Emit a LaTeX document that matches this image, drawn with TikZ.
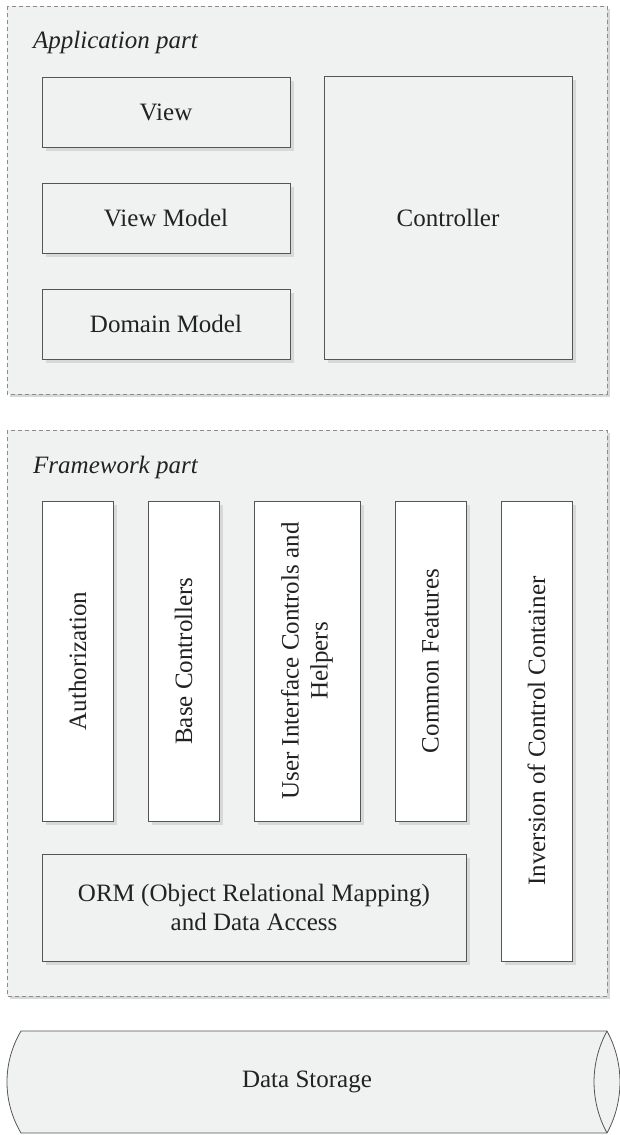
\documentclass[tikz,border=0pt]{standalone}
\usepackage{fontspec}
\setmainfont{Liberation Serif}
\usetikzlibrary{shadows}
\definecolor{bggrey}{HTML}{F0F1F1}
\definecolor{shadowgrey}{HTML}{D7D8D8}
\definecolor{linegrey}{HTML}{555555}
\definecolor{dashgrey}{HTML}{8C8C8C}
\definecolor{textgrey}{HTML}{222222}
\begin{document}
\begin{tikzpicture}[x=1pt,y=-1pt,
  font=\fontsize{25}{29}\selectfont, text=textgrey,
  container/.style={draw=dashgrey, line width=0.8pt, dash pattern=on 4pt off 3pt, fill=bggrey,
    drop shadow={shadow xshift=3pt, shadow yshift=-3pt, fill=shadowgrey, opacity=1}},
  boxbase/.style={draw=linegrey, line width=0.9pt, inner sep=0pt, outer sep=0pt, align=center,
    drop shadow={shadow xshift=3.5pt, shadow yshift=-3.5pt, fill=shadowgrey, opacity=1}},
  appbox/.style={boxbase, fill=bggrey, minimum width=248pt, minimum height=70pt},
  vbox/.style={boxbase, fill=white, minimum width=71pt, minimum height=320pt},
  vtext/.style={rotate=90, align=center, inner sep=0pt},
  parttitle/.style={anchor=base west, font=\fontsize{25}{29}\selectfont\itshape, inner sep=0pt}
]
\useasboundingbox (0,0) rectangle (620,1135);

% containers
\path[container] (7,6) rectangle (607,394);
\path[container] (7,430) rectangle (607,996);

\node[parttitle] (apptitle) at (33,48) {Application part};
\node[parttitle] (fwtitle) at (33,473) {Framework part};

% application part
\node[appbox] (view) at (166,112) {View};
\node[appbox] (viewmodel) at (166,218) {View Model};
\node[appbox] (domain) at (166,324) {Domain Model};
\node[appbox, minimum height=283pt] (controller) at (448,217.5) {Controller};

% framework part
\node[vbox] (auth) at (77.5,661) {};
\node[vtext] at (auth) {Authorization};
\node[vbox] (basec) at (183.5,661) {};
\node[vtext] at (basec) {Base Controllers};
\node[vbox, minimum width=106pt] (uic) at (307,661) {};
\node[vtext] at (uic) {User Interface Controls and\\Helpers};
\node[vbox] (common) at (430.5,661) {};
\node[vtext] at (common) {Common Features};
\node[vbox, minimum height=460pt] (ioc) at (536.5,731) {};
\node[vtext] at (ioc) {Inversion of Control Container};
\node[boxbase, fill=bggrey, minimum width=424pt, minimum height=107pt] (orm) at (254,907.5)
  {ORM (Object Relational Mapping)\\and Data Access};

% data storage cylinder
\path[fill=bggrey, draw=linegrey, line width=0.8pt]
  (21,1031) -- (607,1031)
  .. controls (624.3,1062.8) and (624.3,1101.2) .. (607,1133)
  -- (21,1133)
  .. controls (2.3,1101.5) and (2.3,1062.5) .. (21,1031) -- cycle;
\draw[draw=linegrey, line width=0.8pt] (607,1031)
  .. controls (589.7,1062.8) and (589.7,1101.2) .. (607,1133);
\node (storage) at (307,1082) {Data Storage};
\end{tikzpicture}
\end{document}
